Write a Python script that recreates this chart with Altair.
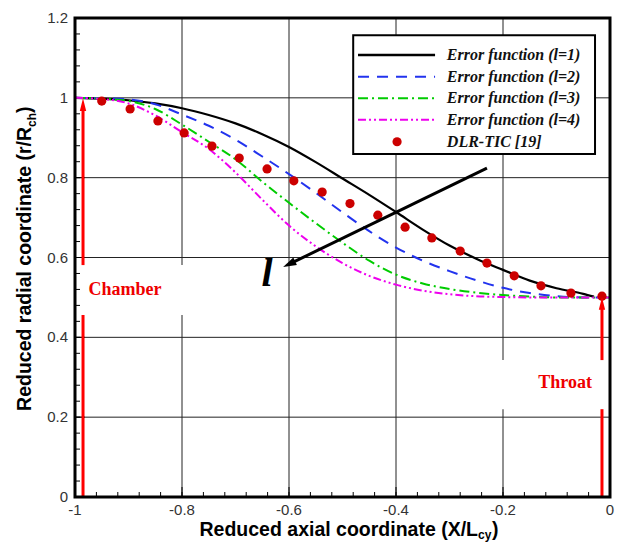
import altair as alt
import pandas as pd

# ---------------- data ----------------
x_err = [-1.0, -0.95, -0.9, -0.85, -0.8, -0.75, -0.7, -0.65, -0.6, -0.55, -0.5,
         -0.45, -0.4, -0.35, -0.3, -0.25, -0.2, -0.15, -0.1, -0.05, 0.0]
x_l1 = [-1.0, -0.95, -0.9, -0.85, -0.8, -0.75, -0.7, -0.65, -0.6, -0.55, -0.5,
        -0.45, -0.4, -0.35, -0.3, -0.25, -0.2, -0.15, -0.1, -0.05, -0.03]
y_l1 = [1.0, 0.998, 0.994, 0.986, 0.974, 0.957, 0.936, 0.909, 0.877, 0.839, 0.798,
        0.757, 0.714, 0.670, 0.630, 0.597, 0.569, 0.542, 0.523, 0.509, 0.502]
y_l2 = [1.0, 0.999, 0.996, 0.984, 0.958, 0.930, 0.895, 0.853, 0.809, 0.762, 0.713,
        0.666, 0.625, 0.592, 0.566, 0.543, 0.524, 0.511, 0.503, 0.500, 0.500]
y_l3 = [1.0, 0.998, 0.992, 0.972, 0.933, 0.890, 0.846, 0.790, 0.737, 0.686, 0.637,
        0.592, 0.557, 0.535, 0.521, 0.512, 0.506, 0.502, 0.500, 0.500, 0.500]
y_l4 = [1.0, 0.997, 0.986, 0.956, 0.914, 0.872, 0.813, 0.745, 0.680, 0.628, 0.586,
        0.554, 0.532, 0.517, 0.508, 0.503, 0.501, 0.500, 0.500, 0.500, 0.500]
dlr_x = [-0.950, -0.897, -0.845, -0.796, -0.744, -0.693, -0.641, -0.591, -0.538, -0.486,
         -0.434, -0.383, -0.333, -0.280, -0.230, -0.179, -0.129, -0.073, -0.015]
dlr_y = [0.992, 0.972, 0.942, 0.912, 0.879, 0.849, 0.822, 0.792, 0.764, 0.735,
         0.706, 0.676, 0.649, 0.616, 0.586, 0.554, 0.529, 0.511, 0.503]

series_names = ["Error function (l=1)", "Error function (l=2)", "Error function (l=3)",
                "Error function (l=4)", "DLR-TIC [19]"]
x_tick_values = [-1, -0.8, -0.6, -0.4, -0.2, 0]
x_tick_labels = ["-1", "-0.8", "-0.6", "-0.4", "-0.2", "0"]
y_tick_values = [0, 0.2, 0.4, 0.6, 0.8, 1, 1.2]
y_tick_labels = ["0", "0.2", "0.4", "0.6", "0.8", "1", "1.2"]

# ---------------- layout / style ----------------
W, H = 535, 479
xs = alt.Scale(domain=[-1, 0], nice=False, zero=False)
ys = alt.Scale(domain=[0, 1.2], nice=False, zero=False)
serif = "Liberation Serif"
sans = "Liberation Sans"

line_styles = [
    ("#000000", None),
    ("#2233ee", [11, 8]),
    ("#00cc00", [10, 4, 2, 4]),
    ("#ee00ee", [8, 3, 2, 3, 2, 3]),
]
ys_list = [y_l1, y_l2, y_l3, y_l4]
xs_list = [x_l1, x_err, x_err, x_err]

X = alt.X("x:Q", scale=xs, axis=None)
Y = alt.Y("y:Q", scale=ys, axis=None)

# grid lines
gx = alt.Chart(pd.DataFrame({"x": x_tick_values[1:-1]})).mark_rule(color="#222222", strokeWidth=1).encode(
    x=X, y=alt.value(0), y2=alt.value(H))
gy = alt.Chart(pd.DataFrame({"y": y_tick_values[1:-1]})).mark_rule(color="#222222", strokeWidth=1).encode(
    y=Y, x=alt.value(0), x2=alt.value(W))

# tick labels
xl = alt.Chart(pd.DataFrame({"x": x_tick_values, "t": x_tick_labels})).mark_text(
    font=sans, fontSize=15, color="#333333", align="center", baseline="top").encode(
    x=X, y=alt.value(H + 6), text="t:N")
yl = alt.Chart(pd.DataFrame({"y": y_tick_values, "t": y_tick_labels})).mark_text(
    font=sans, fontSize=15, color="#333333", align="right", baseline="middle").encode(
    y=Y, x=alt.value(-7), text="t:N")

# white boxes that interrupt the grid
boxes_df = pd.DataFrame({
    "x": [-1.0, -0.25, -0.480], "x2": [-0.75, 0.0, -0.028],
    "y": [0.456, 0.220, 0.859], "y2": [0.581, 0.343, 1.157],
})
white_boxes = alt.Chart(boxes_df.iloc[:2]).mark_rect(fill="white", stroke=None).encode(
    x=X, x2="x2:Q", y=Y, y2="y2:Q")

# minor / major ticks (inward)
x_minor = [round(-1 + 0.04 * i, 2) for i in range(26)]
y_minor = [round(0.04 * i, 2) for i in range(31)]
xt_min = alt.Chart(pd.DataFrame({"x": x_minor})).mark_rule(color="black", strokeWidth=1).encode(
    x=X, y=alt.value(H), y2=alt.value(H - 5))
xt_maj = alt.Chart(pd.DataFrame({"x": x_tick_values})).mark_rule(color="black", strokeWidth=1).encode(
    x=X, y=alt.value(H), y2=alt.value(H - 10))
yt_min = alt.Chart(pd.DataFrame({"y": y_minor})).mark_rule(color="black", strokeWidth=1).encode(
    y=Y, x=alt.value(0), x2=alt.value(5))
yt_maj = alt.Chart(pd.DataFrame({"y": y_tick_values})).mark_rule(color="black", strokeWidth=1).encode(
    y=Y, x=alt.value(0), x2=alt.value(10))

# curves
curve_layers = []
for (color, dash), xv, yv in zip(line_styles, xs_list, ys_list):
    kw = dict(color=color, strokeWidth=2.2 if dash is None else 2, interpolate="monotone")
    if dash:
        kw["strokeDash"] = dash
    curve_layers.append(
        alt.Chart(pd.DataFrame({"x": xv, "y": yv})).mark_line(**kw).encode(x=X, y=Y))

points = alt.Chart(pd.DataFrame({"x": dlr_x, "y": dlr_y})).mark_circle(
    color="#cc0000", size=85, opacity=1).encode(x=X, y=Y)

# red arrows (chamber / throat)
red_segs = pd.DataFrame({
    "x": [-0.985, -0.985, -0.015, -0.015],
    "y": [0.0, 0.581, 0.0, 0.343],
    "y2": [0.456, 0.970, 0.220, 0.472],
})
red_lines = alt.Chart(red_segs).mark_rule(color="#ff0000", strokeWidth=3).encode(
    x=X, y=Y, y2="y2:Q")
head_path = "M0,0L0.45,1.8L-0.45,1.8Z"
red_heads = alt.Chart(pd.DataFrame({"x": [-0.985, -0.015], "y": [0.999, 0.501]})).mark_point(
    shape=head_path, filled=True, color="#ff0000", size=200, opacity=1, strokeWidth=0).encode(x=X, y=Y)

labels_df = pd.DataFrame({"x": [-0.9065, -0.084], "y": [0.519, 0.286], "t": ["Chamber", "Throat"]})
red_text = alt.Chart(labels_df).mark_text(
    font=serif, fontSize=18, fontWeight="bold", color="#ee0000", align="center",
    baseline="middle").encode(x=X, y=Y, text="t:N")

# black arrow indicating increasing l
arrow_line = alt.Chart(pd.DataFrame({"x": [-0.230], "y": [0.824], "x2": [-0.594], "y2": [0.587]})).mark_rule(
    color="black", strokeWidth=3).encode(x=X, y=Y, x2="x2:Q", y2="y2:Q")
arrow_head = alt.Chart(pd.DataFrame({"x": [-0.611], "y": [0.576]})).mark_point(
    shape="M0,0L0.55,1.8L-0.55,1.8Z", filled=True, color="black", size=220, opacity=1,
    angle=244, strokeWidth=0).encode(x=X, y=Y)
l_text = alt.Chart(pd.DataFrame({"x": [-0.641], "y": [0.529], "t": ["l"]})).mark_text(
    font=serif, fontSize=40, fontStyle="italic", fontWeight="bold", color="black",
    align="center", baseline="alphabetic").encode(x=X, y=Y, text="t:N")

# legend (drawn by hand)
leg_box = alt.Chart(boxes_df.iloc[2:]).mark_rect(fill="white", stroke="black", strokeWidth=2).encode(
    x=X, x2="x2:Q", y=Y, y2="y2:Q")
leg_rows = [1.107, 1.053, 0.999, 0.945, 0.890]
leg_layers = [leg_box]
for (color, dash), ry in zip(line_styles, leg_rows[:4]):
    kw = dict(color=color, strokeWidth=2.5 if dash is None else 2)
    if dash:
        kw["strokeDash"] = dash
    leg_layers.append(
        alt.Chart(pd.DataFrame({"x": [-0.471], "x2": [-0.327], "y": [ry]})).mark_rule(**kw).encode(
            x=X, x2="x2:Q", y=Y))
leg_layers.append(
    alt.Chart(pd.DataFrame({"x": [-0.398], "y": [leg_rows[4]]})).mark_circle(
        color="#cc0000", size=85, opacity=1).encode(x=X, y=Y))
leg_layers.append(
    alt.Chart(pd.DataFrame({"x": [-0.305] * 5, "y": leg_rows, "t": series_names})).mark_text(
        font=serif, fontSize=16, fontStyle="italic", fontWeight="bold", color="#111111",
        align="left", baseline="middle").encode(x=X, y=Y, text="t:N"))

# frame
frame = alt.Chart(pd.DataFrame({"a": [0]})).mark_rect(
    filled=False, fill=None, stroke="black", strokeWidth=3).encode(
    x=alt.value(0), x2=alt.value(W), y=alt.value(0), y2=alt.value(H))

# axis titles with subscripts (positions relative to the plot area)
one = pd.DataFrame({"a": [0]})
def txt(t, x, y, size, **kw):
    return alt.Chart(one).mark_text(text=t, font=sans, fontSize=size, fontWeight="bold",
                                     color="black", baseline="alphabetic", **kw).encode(
        x=alt.value(x), y=alt.value(y))

xt_anchor = 403
x_title = [
    txt("Reduced axial coordinate (X/L", xt_anchor, 518, 19.5, align="right"),
    txt("cy", xt_anchor, 521, 12, align="left"),
    txt(")", xt_anchor + 14, 518, 19.5, align="left"),
]
yt_anchor = 109
y_title = [
    txt("Reduced radial coordinate (r/R", -44, yt_anchor, 19.5, align="right", angle=270),
    txt("ch", -39, yt_anchor, 12, align="left", angle=270),
    txt(")", -44, yt_anchor - 14, 19.5, align="left", angle=270),
]

chart = alt.layer(
    gx, gy, white_boxes, xt_min, xt_maj, yt_min, yt_maj, xl, yl,
    *curve_layers, points, red_lines, red_heads, red_text,
    arrow_line, arrow_head, l_text, *leg_layers, frame, *x_title, *y_title,
).properties(
    width=W, height=H,
    padding={"left": 75, "top": 18, "right": 13, "bottom": 45},
    autosize=alt.AutoSizeParams(type="none"),
    background="white",
).configure_view(stroke=None)

chart.save("out.html", embed_options={"renderer": "svg", "actions": False})
